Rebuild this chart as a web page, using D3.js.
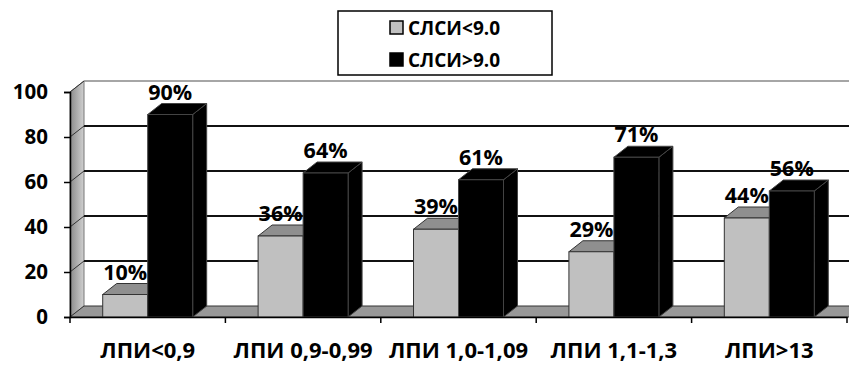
<!DOCTYPE html>
<html>
<head>
<meta charset="utf-8">
<script src="https://cdn.jsdelivr.net/npm/d3@7"></script>
<style>
  body { margin: 0; background: #fff; }
  text { font-family: "Open Sans", sans-serif; font-weight: bold; fill: #000; }
</style>
</head>
<body>
<script>
let w = 849;
let h = 367;

// data
let categories = ["ЛПИ<0,9", "ЛПИ 0,9-0,99", "ЛПИ 1,0-1,09", "ЛПИ 1,1-1,3", "ЛПИ>13"];
let seriesNames = ["СЛСИ<9.0", "СЛСИ>9.0"];
let lowValues = [10, 36, 39, 29, 44];
let highValues = [90, 64, 61, 71, 56];
let yTicks = [0, 20, 40, 60, 80, 100];

let seriesColors = ["#c0c0c0", "#000000"];
let topColors = ["#8f8f8f", "#000000"];

// 3d depth offset
let dx = 14, dy = -11;

let xScale = d3.scaleBand()
    .domain(categories)
    .range([70, 847]);

let xSub = d3.scaleBand()
    .domain(seriesNames)
    .range([0, xScale.bandwidth()])
    .paddingOuter(0.727);

let yScale = d3.scaleLinear()
    .domain([0, 100])
    .range([317, 92]);

let svg = d3.select("body")
    .append("svg")
    .attr("width", w)
    .attr("height", h);

let y0 = yScale(0), yTop = yScale(100);
let xL = xScale.range()[0];

// left wall gradient
let grad = svg.append("defs").append("linearGradient")
    .attr("id", "wall")
    .attr("x1", "0").attr("x2", "1").attr("y1", "0").attr("y2", "0");
grad.append("stop").attr("offset", "0").attr("stop-color", "#8a8a8a");
grad.append("stop").attr("offset", "1").attr("stop-color", "#d0d0d0");

svg.append("path")
    .attr("d", `M${xL},${yTop} L${xL + dx},${yTop + dy} L${xL + dx},${y0 + dy} L${xL},${y0} Z`)
    .attr("fill", "url(#wall)")
    .attr("stroke", "#777")
    .attr("stroke-width", 1);

// floor
svg.append("path")
    .attr("d", `M${xL},${y0} L${xL + dx},${y0 + dy} L${w + 20},${y0 + dy} L${w + 20 - dx},${y0} Z`)
    .attr("fill", "#989898")
    .attr("stroke", "#333")
    .attr("stroke-width", 1);

// gridlines on back wall + diagonals on left wall
yTicks.filter(v => v > 0).forEach(function(v) {
    let y = yScale(v);
    let col = v === 100 ? "#888" : "#111";
    svg.append("line")
        .attr("x1", xL + dx).attr("x2", w)
        .attr("y1", y + dy).attr("y2", y + dy)
        .attr("stroke", col)
        .attr("stroke-width", v === 100 ? 1.5 : 2);
    svg.append("line")
        .attr("x1", xL).attr("x2", xL + dx)
        .attr("y1", y).attr("y2", y + dy)
        .attr("stroke", "#333")
        .attr("stroke-width", 1);
});

// bars
let table = categories.map(function(c, i) {
    return { cat: c, values: [lowValues[i], highValues[i]] };
});

let groups = svg.selectAll("g.cat")
    .data(table)
    .enter()
    .append("g")
    .attr("class", "cat");

groups.each(function(d) {
    let g = d3.select(this);
    d.values.forEach(function(v, j) {
        let x = xScale(d.cat) + xSub(seriesNames[j]);
        let bw = xSub.bandwidth();
        let y = yScale(v);
        let stroke = j === 0 ? "#333" : "#444";
        // side face
        g.append("path")
            .attr("d", `M${x + bw},${y} L${x + bw + dx},${y + dy} L${x + bw + dx},${y0 + dy} L${x + bw},${y0} Z`)
            .attr("fill", topColors[j])
            .attr("stroke", stroke)
            .attr("stroke-width", 1);
        // top face
        g.append("path")
            .attr("d", `M${x},${y} L${x + dx},${y + dy} L${x + bw + dx},${y + dy} L${x + bw},${y} Z`)
            .attr("fill", topColors[j])
            .attr("stroke", stroke)
            .attr("stroke-width", 1);
        // front face
        g.append("rect")
            .attr("x", x)
            .attr("y", y)
            .attr("width", bw)
            .attr("height", y0 - y)
            .attr("fill", seriesColors[j])
            .attr("stroke", stroke)
            .attr("stroke-width", 1);
    });
});

// value labels
groups.each(function(d) {
    let g = d3.select(this);
    d.values.forEach(function(v, j) {
        let x = xScale(d.cat) + xSub(seriesNames[j]) + xSub.bandwidth() / 2;
        g.append("text")
            .attr("x", x)
            .attr("y", yScale(v) + dy - 4)
            .attr("text-anchor", "middle")
            .style("font-size", "21.5px")
            .text(v + "%");
    });
});

// axes
let yAxis = d3.axisLeft(yScale)
    .tickValues(yTicks)
    .tickSize(6)
    .tickPadding(16);

svg.append("g")
    .attr("class", "axis")
    .attr("transform", `translate(${xL},0)`)
    .call(yAxis)
    .call(g => g.selectAll("text").style("font-size", "20.5px"));

let xAxis = d3.axisBottom(xScale)
    .tickValues([])
    .tickSizeOuter(0);

let xg = svg.append("g")
    .attr("class", "axis")
    .attr("transform", `translate(0,${y0})`)
    .call(xAxis);

let bounds = categories.map(c => xScale(c)).concat([xScale.range()[1]]);
xg.selectAll("line.sep")
    .data(bounds)
    .enter()
    .append("line")
    .attr("x1", d => d).attr("x2", d => d)
    .attr("y1", 0).attr("y2", 6)
    .attr("stroke", "#000");

xg.selectAll("text.cat")
    .data(categories)
    .enter()
    .append("text")
    .attr("class", "cat")
    .attr("x", d => xScale(d) + xScale.bandwidth() / 2)
    .attr("y", 41)
    .attr("text-anchor", "middle")
    .style("font-size", "22px")
    .text(d => d);

svg.selectAll(".axis path, .axis line").attr("stroke", "#000").attr("stroke-width", 1.5);

// legend
let legend = svg.append("g");
legend.append("rect")
    .attr("x", 338).attr("y", 11)
    .attr("width", 214).attr("height", 64)
    .attr("fill", "#fff")
    .attr("stroke", "#000")
    .attr("stroke-width", 1.5);

seriesNames.forEach(function(s, i) {
    let cy = 28 + i * 32;
    legend.append("rect")
        .attr("x", 390).attr("y", cy - 7)
        .attr("width", 13).attr("height", 13)
        .attr("fill", seriesColors[i])
        .attr("stroke", "#000")
        .attr("stroke-width", 1.5);
    legend.append("text")
        .attr("x", 408).attr("y", cy)
        .attr("dy", "0.35em")
        .style("font-size", "19px")
        .text(s);
});
</script>
</body>
</html>
